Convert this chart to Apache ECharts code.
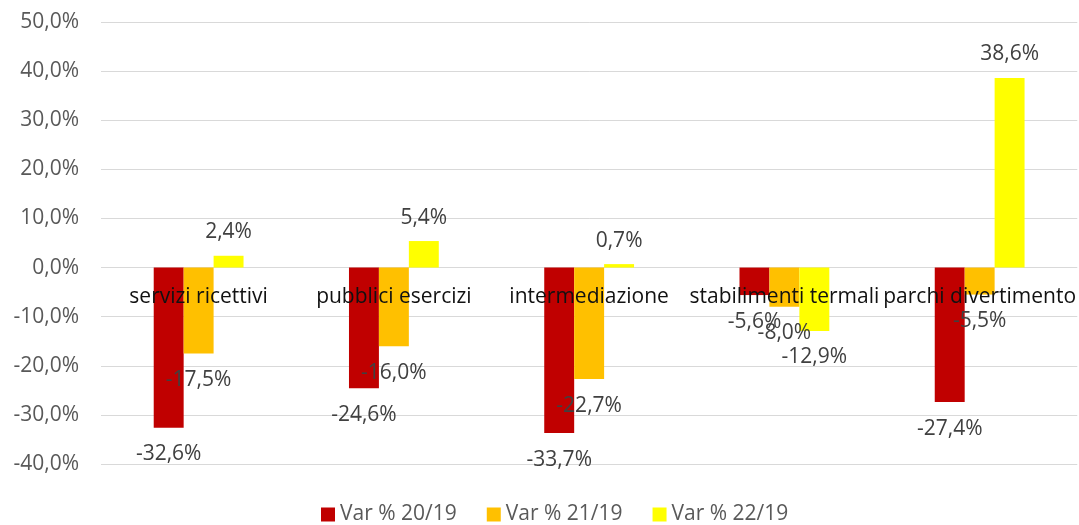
<!DOCTYPE html>
<html>
<head>
<meta charset="utf-8">
<script src="https://cdn.jsdelivr.net/npm/echarts@6/dist/echarts.min.js"></script>
<style>
html, body { margin: 0; padding: 0; background: #fff; }
#chart { width: 1079px; height: 525px; }
</style>
</head>
<body>
<div id="chart"></div>
<script>
var categories = ['servizi ricettivi', 'pubblici esercizi', 'intermediazione', 'stabilimenti termali', 'parchi divertimento'];
var seriesNames = ['Var % 20/19', 'Var % 21/19', 'Var % 22/19'];
var var2019 = [-32.6, -24.6, -33.7, -5.6, -27.4];
var var2119 = [-17.5, -16.0, -22.7, -8.0, -5.5];
var var2219 = [2.4, 5.4, 0.7, -12.9, 38.6];
var colors = ['#C00000', '#FFC000', '#FFFF00'];

var chart = echarts.init(document.getElementById('chart'));
var font = 'Open Sans, Noto Sans, sans-serif';

function fmt(v) {
    return v.toFixed(1).replace('.', ',') + '%';
}

// etichette sotto le barre negative, sopra quelle positive
function makeData(arr) {
    return arr.map(function (v) {
        return {
            value: v,
            label: v < 0 ? { position: 'bottom', distance: 16 } : { position: 'top', distance: 13 }
        };
    });
}

function makeSeries(name, arr, color) {
    return {
        name: name,
        type: 'bar',
        data: makeData(arr),
        barGap: '0%',
        barCategoryGap: '54%',
        itemStyle: { color: color },
        label: {
            show: true,
            color: '#404040',
            fontSize: 21,
            fontFamily: font,
            formatter: function (p) { return fmt(p.value); }
        }
    };
}

var option = {
    animation: false,
    grid: { left: 101, right: 1, top: 22, bottom: 61 },
    legend: {
        top: 499,
        left: 316,
        itemWidth: 14,
        itemHeight: 14,
        itemGap: 30,
        icon: 'rect',
        textStyle: { color: '#595959', fontSize: 21, fontFamily: font },
        data: seriesNames
    },
    xAxis: {
        type: 'category',
        data: categories,
        offset: -196,
        z: 10,
        axisLine: { show: false, onZero: false },
        axisTick: { show: false },
        axisLabel: {
            interval: 0,
            color: '#111',
            fontSize: 21,
            fontFamily: font,
            margin: 19
        }
    },
    yAxis: {
        type: 'value',
        min: -40,
        max: 50,
        interval: 10,
        axisLine: { show: false },
        axisTick: { show: false },
        splitLine: { lineStyle: { color: '#d9d9d9', width: 1 } },
        axisLabel: {
            color: '#595959',
            fontSize: 21,
            fontFamily: font,
            margin: 22,
            formatter: function (v) { return fmt(v); }
        }
    },
    series: [
        makeSeries(seriesNames[0], var2019, colors[0]),
        makeSeries(seriesNames[1], var2119, colors[1]),
        makeSeries(seriesNames[2], var2219, colors[2])
    ]
};

chart.setOption(option);
</script>
</body>
</html>
